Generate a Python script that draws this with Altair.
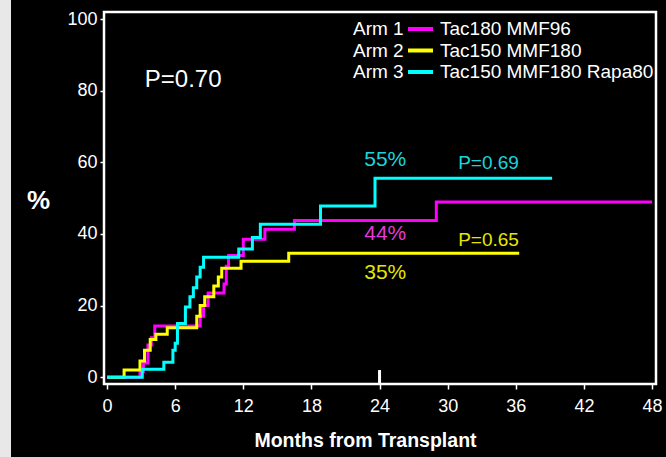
import altair as alt
import pandas as pd

# Cumulative incidence (%) step curves, months from transplant
arm1_months = [0, 2.9, 3.2, 3.6, 3.9, 4.2, 8.2, 8.5, 8.9, 10.3, 10.5, 10.7, 12.0, 13.9, 16.5, 29.0, 48.0]
arm1_pct = [0, 1.5, 4, 9, 11, 14.3, 17, 20, 23.5, 26, 31, 34, 38.5, 41.3, 43.8, 48.9, 48.9]

arm2_months = [0, 1.5, 2.9, 3.3, 3.8, 4.3, 5.3, 7.9, 8.2, 8.6, 9.4, 9.8, 10.1, 11.8, 16.0, 36.3]
arm2_pct = [0, 2, 4.5, 7.5, 10.5, 12, 13.8, 17, 20, 22.5, 25.5, 28, 30.4, 32.4, 34.6, 34.6]

arm3_months = [0, 3.1, 5.0, 5.8, 6.0, 6.2, 6.9, 7.3, 7.6, 7.9, 8.2, 8.5, 11.6, 12.8, 13.5, 18.8, 23.6, 39.2]
arm3_pct = [0, 2.2, 4.2, 7.5, 9.5, 15, 19.6, 22.5, 25, 28, 30.7, 33.5, 35.8, 39, 42.7, 47.8, 55.6, 55.6]

arm_ids = ["Arm 1", "Arm 2", "Arm 3"]
arm_regimens = ["Tac180 MMF96", "Tac150 MMF180", "Tac150 MMF180 Rapa80"]
arm_colors = ["#ff00ff", "#ffff00", "#00ffff"]
text_colors = ["#e838d8", "#e6e600", "#18d6de"]

x_ticks = [0, 6, 12, 18, 24, 30, 36, 42, 48]
y_ticks = [0, 20, 40, 60, 80, 100]

# Labels placed on the plot: (text, month, percent, colour, font size)
note_text = ["P=0.70", "55%", "P=0.69", "44%", "P=0.65", "35%"]
note_month = [6.7, 24.5, 33.6, 24.5, 33.6, 24.5]
note_pct = [83, 60.6, 59.8, 40, 38.3, 29]
note_color = ["#ffffff", text_colors[2], text_colors[2], text_colors[0], text_colors[1], text_colors[1]]
note_size = [24, 21, 19, 21, 19, 21]

frames = []
for arm, months, pct in zip(arm_ids, [arm1_months, arm2_months, arm3_months],
                            [arm1_pct, arm2_pct, arm3_pct]):
    frames.append(pd.DataFrame({"arm": arm, "month": months, "pct": pct}))
curves = pd.concat(frames, ignore_index=True)

notes = pd.DataFrame({"text": note_text, "month": note_month, "pct": note_pct,
                      "color": note_color, "size": note_size})
legend_df = pd.DataFrame({"arm": arm_ids, "regimen": arm_regimens, "color": arm_colors})

W, H = 552, 372
x_scale = alt.Scale(domain=[-0.27, 48.35], nice=False, zero=False)
y_scale = alt.Scale(domain=[-1.9, 102], nice=False, zero=False)
FONT = "Liberation Sans"

x_enc = alt.X("month:Q", scale=x_scale,
              axis=alt.Axis(values=x_ticks, title="Months from Transplant",
                            titleFontSize=19.5, titleFontWeight="bold", titleColor="white",
                            titleX=261, titleY=56, titleBaseline="middle",
                            labelFontSize=18, labelColor="white", labelPadding=8,
                            tickColor="white", tickSize=5, tickWidth=1.5,
                            domain=False, grid=False, labelFont=FONT, titleFont=FONT))
y_enc = alt.Y("pct:Q", scale=y_scale,
              axis=alt.Axis(values=y_ticks, title="%", titleAngle=0,
                            titleFontSize=26, titleFontWeight="bold", titleColor="white",
                            titleX=-66, titleY=188, titleAlign="center", titleBaseline="middle",
                            labelFontSize=18, labelColor="white", labelPadding=3,
                            tickColor="white", tickSize=4, tickWidth=1.5,
                            domain=False, grid=False, labelFont=FONT, titleFont=FONT))

lines = alt.Chart(curves).mark_line(interpolate="step-after", strokeWidth=3).encode(
    x=x_enc, y=y_enc,
    color=alt.Color("arm:N", scale=alt.Scale(domain=arm_ids, range=arm_colors), legend=None),
    order=alt.Order("month:Q"),
)

# White marker at the 24-month landmark on the time axis
landmark = alt.Chart(pd.DataFrame({"month": [24], "lo": [-1.9], "hi": [2.0]})).mark_rule(
    color="white", strokeWidth=3).encode(
    x=alt.X("month:Q", scale=x_scale), y=alt.Y("lo:Q", scale=y_scale), y2="hi:Q")

labels = alt.Chart(notes).mark_text(font=FONT, baseline="middle", align="center").encode(
    x=alt.X("month:Q", scale=x_scale), y=alt.Y("pct:Q", scale=y_scale),
    text="text:N", color=alt.Color("color:N", scale=None),
    size=alt.Size("size:Q", scale=None),
)

legend_y = alt.Y("arm:N", scale=alt.Scale(domain=arm_ids, type="point", range=[17, 60], padding=0),
                 axis=None)
leg_arm = alt.Chart(legend_df).mark_text(font=FONT, fontSize=19, color="white",
                                         align="left", baseline="middle").encode(
    x=alt.value(249), y=legend_y, text="arm:N")
leg_line = alt.Chart(legend_df).mark_rule(strokeWidth=4).encode(
    x=alt.value(304), x2=alt.value(329), y=legend_y, color=alt.Color("color:N", scale=None))
leg_name = alt.Chart(legend_df).mark_text(font=FONT, fontSize=19, color="white",
                                          align="left", baseline="middle").encode(
    x=alt.value(336), y=legend_y, text="regimen:N")
legend = alt.layer(leg_arm, leg_line, leg_name)

# Light strip along the left edge of the slide
strip = alt.Chart(pd.DataFrame({"k": [0]})).mark_rect(color="#e8e8e8").encode(
    x=alt.value(-104), x2=alt.value(-93), y=alt.value(-12), y2=alt.value(445))

main = alt.layer(strip, landmark, lines, labels)

chart = alt.layer(main, legend).resolve_scale(y="independent").properties(
    width=W, height=H,
    background="black",
    autosize=alt.AutoSizeParams(type="none"),
    padding={"left": 104, "top": 12, "right": 10, "bottom": 73},
).configure_view(stroke="white", strokeWidth=2.5, fill="black")

chart.save("out.html", embed_options={"renderer": "svg", "actions": False})
